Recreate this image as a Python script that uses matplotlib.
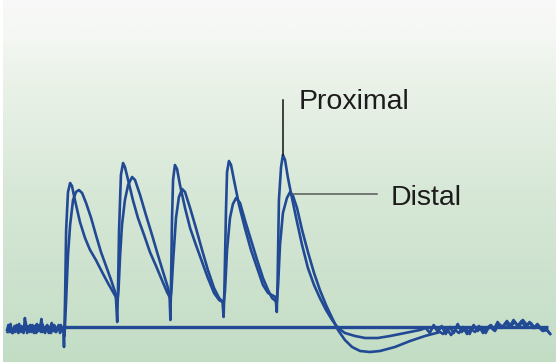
import numpy as np
import matplotlib
matplotlib.use("Agg")
import matplotlib.pyplot as plt
from matplotlib.colors import LinearSegmentedColormap

# Time (ms, stimulus trains at 0, 20, 40, 60, 80 ms) and response amplitude (a.u.)
proximal_t = [
    -21.4, -20.9, -20.3, -19.8, -19.2, -18.6, -18.0, -17.5, -16.9, -16.3, -15.8,
    -15.2, -14.7, -14.2, -13.6, -13.0, -12.5, -11.9, -11.3, -10.8, -10.2, -9.6,
    -9.0, -8.5, -8.0, -7.4, -6.9, -6.3, -5.7, -5.2, -4.6, -4.0, -3.5, -2.9, -2.3,
    -1.8, -1.2, -0.7, -0.3,
    0.0, 0.4, 0.8, 1.5, 2.3, 3.0, 4.1, 6.0, 7.9, 9.8, 12.0, 14.3, 16.5, 18.4, 19.5,
    20.0, 20.3, 20.7, 21.4, 22.2, 22.9, 24.1, 25.9, 27.8, 30.1, 32.3, 34.6, 36.8, 38.7, 39.7,
    40.0, 40.2, 40.6, 41.0, 41.7, 42.5, 43.6, 45.5, 47.4, 49.6, 51.9, 54.1, 56.4, 58.3, 59.6,
    60.0, 60.3, 60.9, 61.3, 62.0, 62.8, 63.9, 65.8, 68.0, 70.3, 72.6, 74.8, 76.7, 79.5,
    80.0, 80.3, 80.8, 81.6, 82.3, 83.1, 84.2, 85.7, 87.6, 89.5, 91.7, 94.0, 96.2, 98.5,
    100.8, 103.0, 105.6, 109.4, 113.2, 118.0, 122.6, 128.2, 133.8,
    136.0, 137.5, 139.0, 140.5, 142.0, 143.5, 145.0, 146.5, 148.0, 149.5, 151.0, 152.5,
    154.0, 155.5, 157.0, 158.5, 160.0, 161.5, 163.0, 164.5, 166.0, 167.5, 169.0, 170.5,
    172.0, 173.5, 175.0, 176.5, 178.0, 179.5, 181.0, 182.5,
]
proximal_a = [
    -0.3, 0.2, -0.5, -0.1, -0.6, 0.1, -0.4, -0.2, 0.3, -0.5, -0.1,
    -0.6, 0.9, -0.3, 0.1, -0.5, -0.2, 0.2, -0.6, -0.1, 0.3, -0.4,
    -0.2, 0.8, -0.5, 0.0, -0.3, 0.2, -0.6, -0.1, 0.4, -0.4, 0.1, -0.5, 0.0,
    -0.3, 0.2, -0.4, 0.0,
    -2.0, 2.7, 9.7, 13.5, 14.4, 14.1, 12.7, 10.5, 8.9, 7.7, 6.7, 5.5, 4.4, 3.5, 3.0,
    0.5, 3.7, 9.7, 15.2, 16.4, 16.0, 14.7, 12.7, 10.9, 9.2, 7.5, 6.1, 4.7, 3.5, 3.0,
    0.7, 3.7, 10.7, 14.7, 16.2, 15.8, 14.2, 11.9, 9.9, 8.2, 6.5, 4.9, 3.4, 2.7, 2.5,
    1.0, 3.7, 11.7, 15.5, 16.6, 16.2, 14.7, 12.2, 9.9, 7.7, 5.9, 4.2, 3.4, 3.0,
    1.5, 4.7, 12.7, 16.0, 17.2, 16.7, 14.9, 12.9, 10.5, 8.2, 5.9, 4.2, 2.9, 1.7,
    0.7, -0.1, -0.6, -0.9, -1.1, -1.1, -0.9, -0.6, -0.3,
    -0.1, -0.6, 0.2, -0.5, 0.1, -0.7, 0.0, -0.6, 0.3, -0.5, -0.1, -0.7,
    0.2, -0.4, 0.0, -0.6, 0.1, -0.3, 0.5, -0.1, 0.4, 0.0, 0.7, 0.1,
    0.6, 0.0, 0.5, -0.1, 0.3, -0.3, -0.1, -0.6,
]

distal_t = [
    -21.2, -20.6, -20.1, -19.5, -18.9, -18.3, -17.8, -17.2, -16.6, -16.0, -15.5,
    -14.9, -14.4, -13.9, -13.3, -12.7, -12.2, -11.6, -11.0, -10.5, -9.9, -9.3,
    -8.7, -8.2, -7.7, -7.1, -6.6, -6.0, -5.4, -4.9, -4.3, -3.7, -3.2, -2.6, -2.0,
    -1.5, -0.9, -0.4,
    0.0, 0.2, 0.8, 1.5, 2.3, 3.4, 4.5, 5.6, 6.8, 8.3, 10.2, 12.0, 13.9, 15.8, 17.7, 19.2,
    20.0, 20.5, 21.1, 21.8, 22.9, 24.1, 25.6, 26.7, 28.6, 30.8, 33.1, 35.3, 37.6, 39.1,
    40.0, 40.4, 41.0, 42.1, 43.2, 44.4, 45.5, 47.4, 49.6, 51.9, 54.1, 56.4, 58.3,
    60.0, 60.5, 61.3, 62.4, 63.5, 64.7, 66.2, 68.0, 70.3, 72.6, 74.8, 76.7, 78.2,
    80.0, 80.5, 81.2, 82.3, 83.8, 85.0, 86.1, 87.6, 89.5, 91.7, 94.0, 96.2, 98.5,
    100.8, 103.0, 105.6, 108.3, 111.3, 115.0, 118.8, 124.4, 130.1, 135.7, 141.4,
    142.5, 144.0, 145.5, 147.0, 148.5, 150.0, 151.5, 153.0, 154.5, 156.0, 157.5, 159.0,
    160.5, 162.0, 163.5, 165.0, 166.5, 168.0, 169.5, 171.0, 172.5, 174.0, 175.5, 177.0,
    178.5, 180.0, 181.5, 182.8,
]
distal_a = [
    -0.5, -0.1, 0.3, -0.6, -0.2, -0.5, 0.2, -0.6, -0.1, 0.1, -0.5,
    -0.2, 0.5, -0.6, -0.2, 0.2, -0.5, -0.1, 0.1, -0.6, -0.3, 0.2,
    -0.5, 0.3, -0.2, -0.6, 0.1, -0.4, 0.0, -0.6, -0.2, 0.2, -0.5, -0.1, 0.2,
    -0.6, -0.1, -0.3,
    0.0, -0.9, 2.7, 7.2, 10.2, 12.7, 13.5, 13.7, 13.4, 12.4, 10.9, 9.2, 7.5, 6.1, 4.7, 3.5,
    2.4, 3.7, 7.2, 10.2, 12.7, 14.2, 15.0, 14.7, 13.2, 11.2, 9.2, 7.2, 5.2, 3.9,
    2.7, 3.7, 6.5, 10.9, 13.0, 13.8, 13.5, 11.9, 9.9, 7.7, 5.7, 3.9, 2.9,
    2.4, 3.5, 7.7, 10.9, 12.3, 12.9, 12.4, 10.7, 8.7, 6.7, 4.9, 3.7, 2.9,
    2.5, 4.2, 8.2, 11.4, 12.9, 13.5, 13.1, 11.9, 9.7, 7.5, 5.4, 3.7, 2.2,
    0.9, -0.3, -1.3, -2.0, -2.4, -2.5, -2.4, -2.0, -1.4, -0.9, -0.5,
    -0.7, -0.2, -0.8, -0.3, -0.6, 0.0, -0.7, -0.2, -0.5, 0.1, -0.6, -0.1,
    0.2, -0.4, 0.3, 0.0, 0.6, 0.1, 0.5, 0.0, 0.7, 0.2, 0.4, -0.1,
    0.1, -0.4, -0.3, -0.7,
]

# Resting baseline drawn from train onset to end of record
baseline_level = 0.0
baseline_span = [0.0, 182.0]

# Label anchors: (time, amplitude)
proximal_peak = (82.3, 17.2)
distal_peak = (85.7, 13.3)

trace_color = "#224a94"

fig = plt.figure(figsize=(5.56, 3.62), dpi=100)
ax = fig.add_axes([0, 0, 1, 1])
x0, x1 = -24.06, 184.96
y0, y1 = -3.5, 32.7
ax.set_xlim(x0, x1)
ax.set_ylim(y0, y1)
ax.axis("off")

# Soft white-to-green vertical background
bg = LinearSegmentedColormap.from_list(
    "bg",
    [(0.0, "#c3ddc5"), (0.45, "#d6e7d6"), (0.80, "#ecf3ea"), (0.92, "#f6f8f5"), (1.0, "#f8f8f8")],
)
grad = np.linspace(0, 1, 256).reshape(-1, 1)
ax.imshow(grad, cmap=bg, origin="lower", extent=[x0, x1, y0, y1], aspect="auto", zorder=0)
ax.axvspan(x0, x0 + 1.1, color="white", zorder=0.5, lw=0)

ax.plot(baseline_span, [baseline_level, baseline_level], color=trace_color, lw=2.4,
        solid_capstyle="butt", zorder=2)
ax.plot(distal_t, distal_a, color=trace_color, lw=1.9, zorder=3, solid_joinstyle="round")
ax.plot(proximal_t, proximal_a, color=trace_color, lw=1.9, zorder=3, solid_joinstyle="round")

# Leader lines and labels
ax.plot([proximal_peak[0], proximal_peak[0]], [proximal_peak[1], 22.7], color="#111111", lw=1.1, zorder=4)
ax.plot([distal_peak[0] + 0.4, 117.7], [distal_peak[1], distal_peak[1]], color="#5a5a5a", lw=1.1, zorder=4)

font = dict(family=["Liberation Sans", "DejaVu Sans"], size=20.5, color="#1c1c1c")
ax.text(88.3, 21.8, "Proximal", ha="left", va="baseline", **font)
ax.text(122.9, 12.2, "Distal", ha="left", va="baseline", **font)

fig.savefig("out.png", dpi=100)
